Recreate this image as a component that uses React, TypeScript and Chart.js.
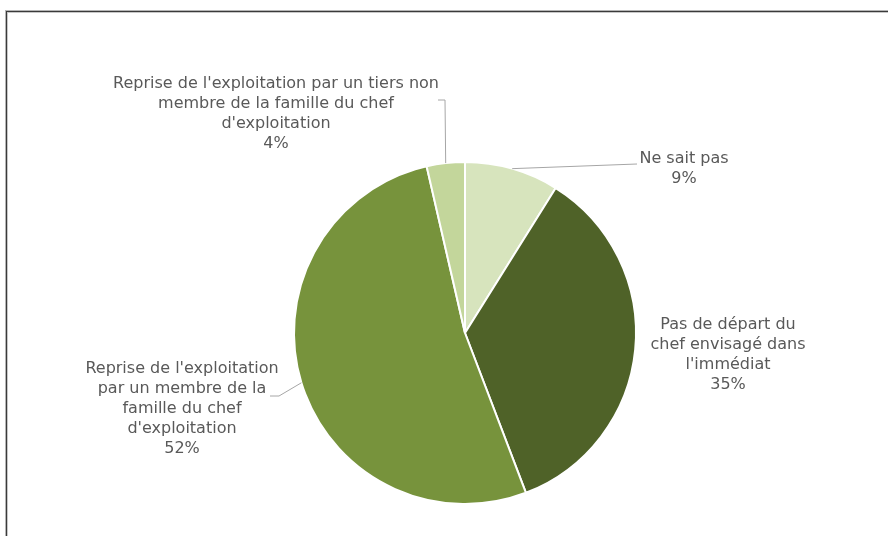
import React, { useEffect, useRef } from "react";
import { Chart, registerables } from "chart.js";

Chart.register(...registerables);

const categories = [
  "Ne sait pas",
  "Pas de départ du chef envisagé dans l'immédiat",
  "Reprise de l'exploitation par un membre de la famille du chef d'exploitation",
  "Reprise de l'exploitation par un tiers non membre de la famille du chef d'exploitation",
];
const labelLines = [
  ["Ne sait pas"],
  ["Pas de départ du", "chef envisagé dans", "l'immédiat"],
  ["Reprise de l'exploitation", "par un membre de la", "famille du chef", "d'exploitation"],
  ["Reprise de l'exploitation par un tiers non", "membre de la famille du chef", "d'exploitation"],
];
const shares = [8.9, 35.3, 52.2, 3.6];
const colors = ["#D7E4BD", "#4F6228", "#77933C", "#C3D69B"];

// label block placement relative to the pie centre (px): centre x, first line centre y
const labelOffsets = [
  { dx: 219, dy: -174 },
  { dx: 263, dy: -8 },
  { dx: -283, dy: 36 },
  { dx: -189, dy: -249 },
];
// leader polylines (after the arc mid-point), relative to the pie centre
const leaders: { x: number; y: number }[][] = [
  [{ x: 172, y: -169 }],
  [],
  [{ x: -186, y: 63 }, { x: -195, y: 63 }],
  [{ x: -20, y: -233 }, { x: -27, y: -233 }],
];

const labelPlugin = {
  id: "outsideLabels",
  afterDatasetsDraw(chart: any) {
    const ctx = chart.ctx;
    const meta = chart.getDatasetMeta(0);
    const data = chart.data.datasets[0].data as number[];
    const total = data.reduce((a, b) => a + b, 0);
    ctx.save();
    meta.data.forEach((arc: any, i: number) => {
      const p = arc.getProps(["x", "y", "startAngle", "endAngle", "outerRadius"], true);
      const mid = (p.startAngle + p.endAngle) / 2;
      const sx = p.x + Math.cos(mid) * p.outerRadius;
      const sy = p.y + Math.sin(mid) * p.outerRadius;
      const pts = leaders[i];
      if (pts.length) {
        ctx.beginPath();
        ctx.strokeStyle = "#A6A6A6";
        ctx.lineWidth = 1;
        ctx.moveTo(sx, sy);
        pts.forEach((q) => ctx.lineTo(p.x + q.x, p.y + q.y));
        ctx.stroke();
      }
      const lines = [...labelLines[i], Math.round((data[i] / total) * 100) + "%"];
      ctx.fillStyle = "#595959";
      ctx.font = "16px 'DejaVu Sans'";
      ctx.textAlign = "center";
      ctx.textBaseline = "middle";
      const lx = p.x + labelOffsets[i].dx;
      const ly = p.y + labelOffsets[i].dy;
      lines.forEach((t, k) => ctx.fillText(t, lx, ly + k * 20));
    });
    ctx.restore();
  },
};

export default function App() {
  const ref = useRef<HTMLCanvasElement | null>(null);
  useEffect(() => {
    if (!ref.current) return;
    const chart = new Chart(ref.current, {
      type: "pie",
      data: {
        labels: categories,
        datasets: [
          {
            data: shares,
            backgroundColor: colors,
            borderColor: "#FFFFFF",
            borderWidth: 2,
          },
        ],
      },
      options: {
        responsive: false,
        animation: false,
        layout: { padding: { top: 161, bottom: 31, left: 293, right: 251 } },
        plugins: {
          legend: { display: false },
          tooltip: { enabled: false },
        },
      },
      plugins: [labelPlugin],
    });
    return () => chart.destroy();
  }, []);
  return (
    <div
      style={{
        position: "absolute",
        left: 0,
        top: 0,
        width: 888,
        height: 536,
        overflow: "hidden",
        background: "#fff",
      }}
    >
      <div
        style={{
          position: "absolute",
          left: 6,
          top: 11,
          width: 950,
          height: 600,
          borderLeft: "1px solid #3a3a3a",
          borderTop: "1px solid #3a3a3a",
          boxShadow: "-1px -1px 0 #b5b5b5, inset 1px 1px 0 #c8c8c8",
        }}
      />
      <canvas ref={ref} width={888} height={536} style={{ position: "absolute", left: 0, top: 0 }} />
    </div>
  );
}
